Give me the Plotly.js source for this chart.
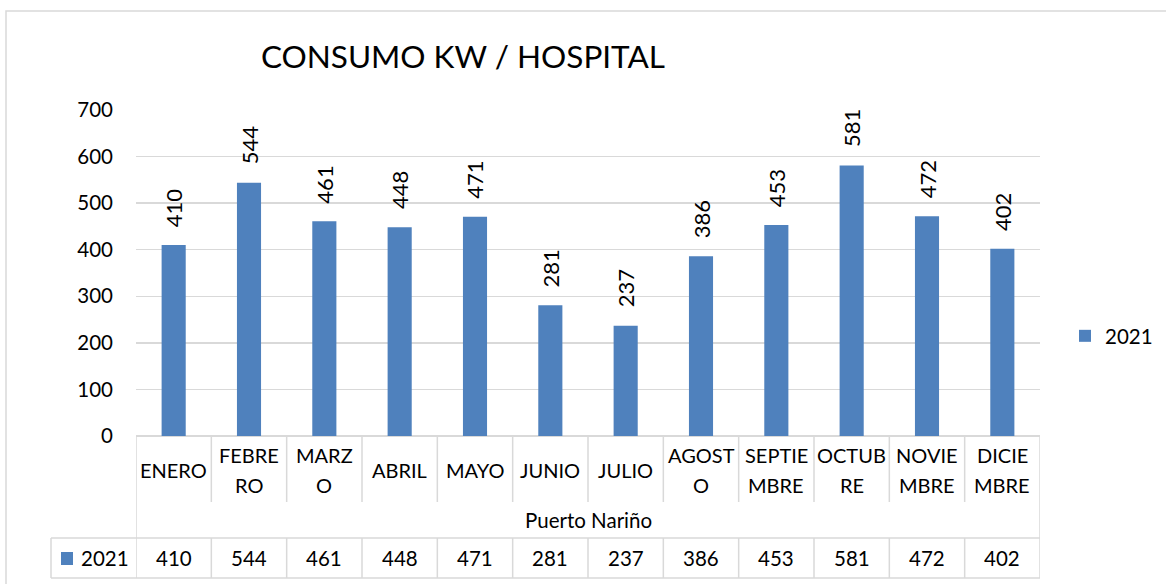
<!DOCTYPE html>
<html>
<head>
<meta charset="utf-8">
<script src="https://cdn.plot.ly/plotly-3.0.1.min.js"></script>
<style>html,body{margin:0;padding:0;background:#fff;}#chart{width:1166px;height:584px;}</style>
</head>
<body>
<div id="chart"></div>
<script>
const chartTitle = 'CONSUMO KW / HOSPITAL';
const months = ['ENERO','FEBRERO','MARZO','ABRIL','MAYO','JUNIO','JULIO','AGOSTO','SEPTIEMBRE','OCTUBRE','NOVIEMBRE','DICIEMBRE'];
const monthLabelLines = [['ENERO'],['FEBRE','RO'],['MARZ','O'],['ABRIL'],['MAYO'],['JUNIO'],['JULIO'],['AGOST','O'],['SEPTIE','MBRE'],['OCTUB','RE'],['NOVIE','MBRE'],['DICIE','MBRE']];
const values2021 = [410,544,461,448,471,281,237,386,453,581,472,402];
const seriesName = '2021';
const groupLabel = 'Puerto Nariño';
const yTicks = [0,100,200,300,400,500,600,700];

const FONT = 'Lato, "Open Sans", sans-serif';
const BLUE = '#4F81BD';
const GRID = '#d9d9d9';

// plot-area pixel geometry -> paper helpers
const L = 136, R = 1040, T = 110, B = 436;
const px = v => (v - L) / (R - L);
const py = v => (B - v) / (B - T);

const shapes = [];
const annotations = [];

// outer chart border
shapes.push({type:'rect', xref:'paper', yref:'paper', x0:px(6), x1:px(1172), y0:py(11), y1:py(592),
  line:{color:GRID, width:1.5}, fillcolor:'rgba(0,0,0,0)', layer:'below'});

// category row separators
for (let i = 0; i <= months.length; i++) {
  const edge = (i === 0 || i === months.length);
  shapes.push({type:'line', xref:'x', yref:'paper', x0:i-0.5, x1:i-0.5, y0:0, y1: edge ? py(578) : py(502),
    line:{color:GRID, width:1.5}});
  if (!edge) {
    shapes.push({type:'line', xref:'x', yref:'paper', x0:i-0.5, x1:i-0.5, y0:py(538), y1:py(578),
      line:{color:GRID, width:1.5}});
  }
}
// data table horizontal lines & left border
shapes.push({type:'line', xref:'paper', yref:'paper', x0:px(51), x1:1, y0:py(538), y1:py(538), line:{color:GRID, width:1.5}});
shapes.push({type:'line', xref:'paper', yref:'paper', x0:px(51), x1:1, y0:py(578), y1:py(578), line:{color:GRID, width:1.5}});
shapes.push({type:'line', xref:'paper', yref:'paper', x0:px(51), x1:px(51), y0:py(538), y1:py(578), line:{color:GRID, width:1.5}});
// legend key in the data table
shapes.push({type:'rect', xref:'paper', yref:'paper', x0:px(61), x1:px(73), y0:py(565), y1:py(552),
  line:{width:0}, fillcolor:BLUE});
annotations.push({xref:'paper', yref:'paper', x:px(79), y:py(558), text:seriesName, showarrow:false,
  xanchor:'left', yanchor:'middle', font:{family:FONT, size:20.5, color:'#000'}});

// category labels
monthLabelLines.forEach((lines, i) => {
  const ys = lines.length === 1 ? [470] : [455, 485];
  lines.forEach((t, k) => {
    annotations.push({xref:'x', yref:'paper', x:months[i], y:py(ys[k]), text:t, showarrow:false,
      xanchor:'center', yanchor:'middle', font:{family:FONT, size:20, color:'#000'}});
  });
});
// group label
annotations.push({xref:'paper', yref:'paper', x:0.5, y:py(520), text:groupLabel, showarrow:false,
  xanchor:'center', yanchor:'middle', font:{family:FONT, size:20.5, color:'#000'}});
// data table values
values2021.forEach((v, i) => {
  annotations.push({xref:'x', yref:'paper', x:months[i], y:py(558), text:String(v), showarrow:false,
    xanchor:'center', yanchor:'middle', font:{family:FONT, size:20.5, color:'#000'}});
});
// data labels above bars (rotated)
values2021.forEach((v, i) => {
  annotations.push({xref:'x', yref:'y', x:months[i], y:v, text:String(v), showarrow:false, textangle:-90,
    xanchor:'center', yanchor:'bottom', yshift:16, font:{family:FONT, size:22, color:'#000'}});
});

const trace = {
  type:'bar', x:months, y:values2021, name:seriesName,
  marker:{color:BLUE, line:{width:0}},
  hoverinfo:'skip'
};

const layout = {
  width:1166, height:584,
  margin:{l:L, r:1166-R, t:T, b:584-B, pad:0, autoexpand:false},
  paper_bgcolor:'#fff', plot_bgcolor:'#fff',
  title:{text:chartTitle, x:463/1166, xanchor:'center', y:1-57/584, yanchor:'middle',
    font:{family:FONT, size:31.5, color:'#000'}},
  bargap:0.68,
  showlegend:true,
  legend:{x:px(1065), y:py(336), xanchor:'left', yanchor:'middle', font:{family:FONT, size:20.5, color:'#000'},
    bgcolor:'rgba(0,0,0,0)', itemwidth:30},
  xaxis:{type:'category', showticklabels:false, showgrid:false, showline:false, zeroline:false, ticks:'',
    range:[-0.5, months.length-0.5], fixedrange:true},
  yaxis:{range:[0,700], tickvals:yTicks, ticktext:yTicks.map(String), showgrid:true, gridcolor:GRID, gridwidth:1.5,
    zeroline:true, zerolinecolor:GRID, zerolinewidth:1.5, showline:false, ticks:'',
    ticklabelstandoff:22, tickfont:{family:FONT, size:20.5, color:'#000'}, fixedrange:true},
  shapes:shapes,
  annotations:annotations
};

Plotly.newPlot('chart', [trace], layout, {displayModeBar:false, staticPlot:true});
</script>
</body>
</html>
